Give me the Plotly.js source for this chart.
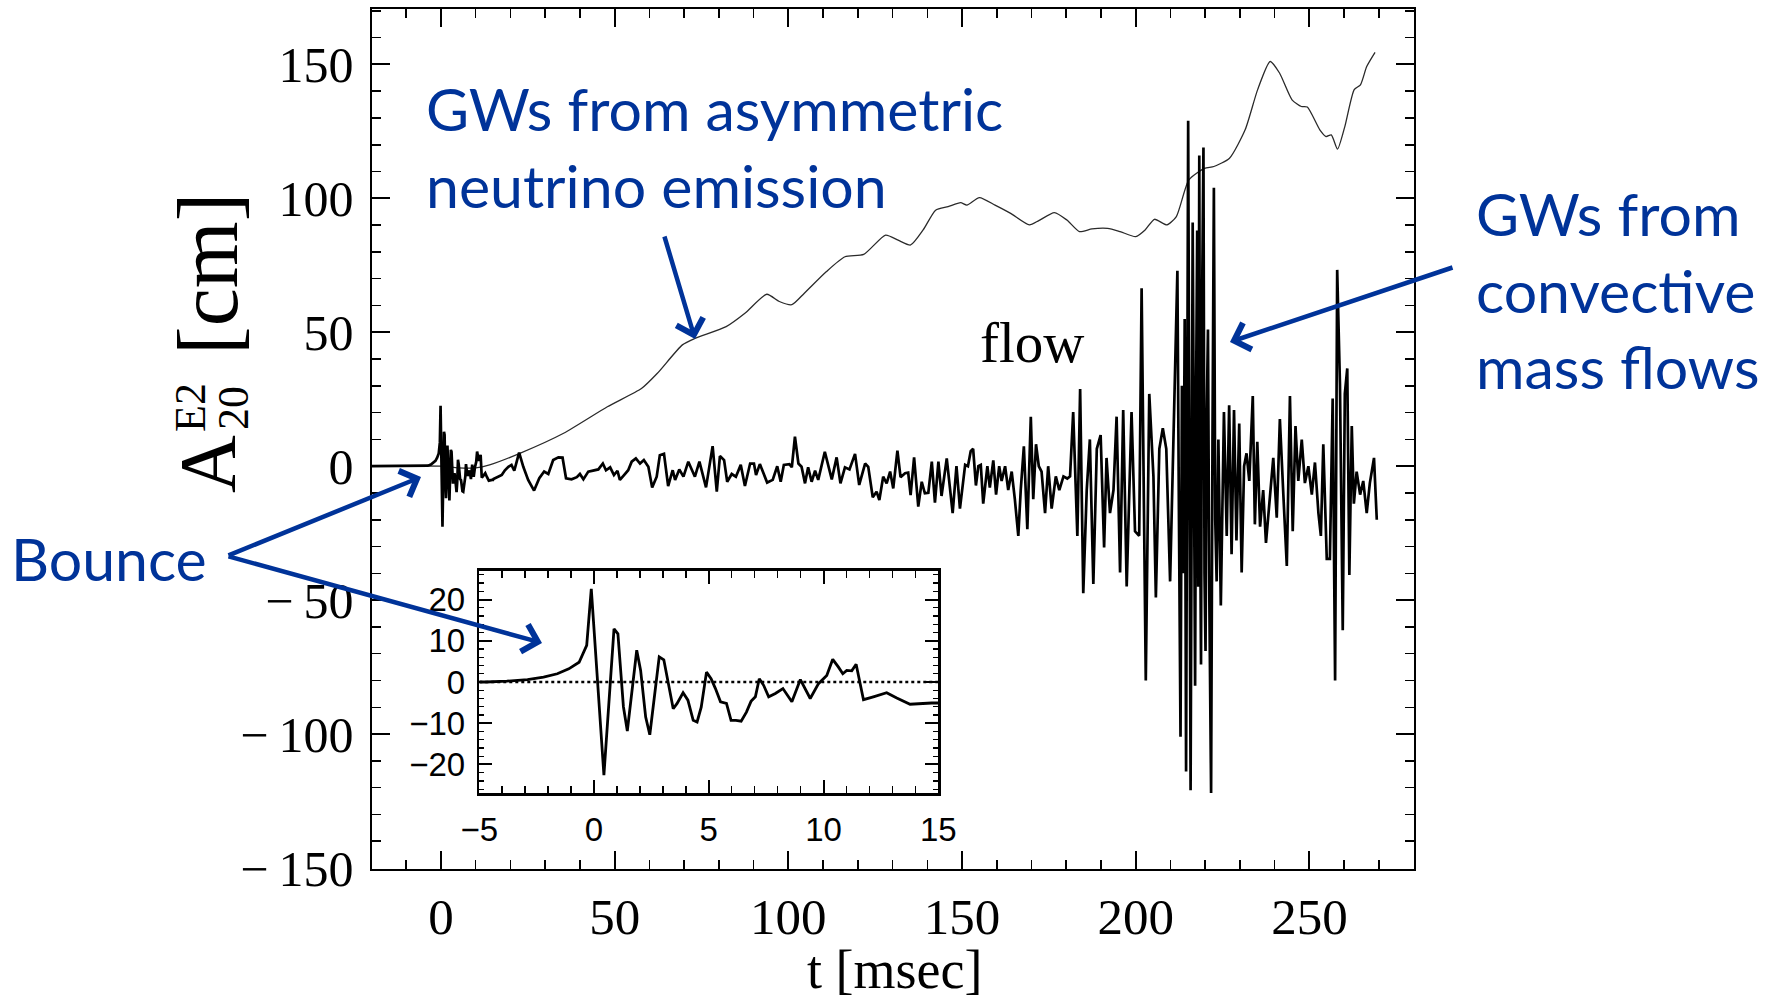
<!DOCTYPE html>
<html><head><meta charset="utf-8">
<script src="https://cdn.plot.ly/plotly-3.0.1.min.js"></script>
<style>html,body{margin:0;padding:0;background:#fff;}#chart{width:1776px;height:999px;}</style>
</head><body><div id="chart"></div>
<script>
// ---- Inset / bounce region (t in msec, A in cm) ----
const insetT = [-5, -4.7, -3.8, -2.9, -2.2, -1.6, -1.1, -0.65, -0.32, -0.12, 0.43, 0.87, 1.04, 1.28, 1.45, 1.86, 2.03, 2.25, 2.43, 2.84, 3.04, 3.26, 3.45, 3.62, 3.88, 4.09, 4.32, 4.49, 4.67, 4.9, 5.1, 5.29, 5.51, 5.77, 5.97, 6.18, 6.41, 6.64, 6.84, 7.03, 7.2, 7.39, 7.61, 7.9, 8.23, 8.62, 8.99, 9.42, 9.6, 9.78, 10.14, 10.4, 10.65, 10.84, 11.01, 11.23, 11.42, 11.74, 12.17, 12.75, 13.19, 13.77, 14.71, 15];
const insetV = [0, 0, 0.2, 0.6, 1.2, 2, 3.2, 4.8, 8.9, 22.6, -22.6, 12.9, 11.7, -6, -11.9, 7.7, 2.8, -8.5, -12.8, 6.1, 5.4, -1.2, -6.5, -5.2, -2.6, -4.4, -9.3, -9.7, -6.1, 2.4, 0.8, -1.6, -4.8, -5.2, -9.3, -9.3, -9.5, -7.3, -4.7, -3.6, 0.8, -0.8, -3.6, -2.8, -1.6, -4.8, 0.6, -4, -2, -0.4, 1.6, 5.5, 3.6, 2, 2.8, 2.7, 4.3, -4.3, -3.6, -2.6, -3.9, -5.4, -5.1, -5.1];

// ---- Main "flow" signal (thick line) ----
const preT = [-20];
const preV = [0];
const flowT1 = [15.1, 16.5, 17.5, 18.4, 19.4, 20.3, 21.1, 21.8, 22.5, 23.7, 25.1, 26.8, 28.3, 29.7, 30.9, 32.3, 33.8, 35, 36, 37.6, 39.1, 40, 41, 42.4, 43.9, 45.3, 46.6, 47.5, 48.7, 49.8, 50.8, 51.5, 52.7, 53.9, 54.9, 56.1, 57.3, 58.4, 59.7, 60.8, 62.1, 63, 64.2, 65.4, 66.7, 67.4, 68.6, 69.8, 71.2];
const flowV1 = [-4.8, -4, -3.3, -1.5, -0.2, 0.5, -1.7, 1.7, 5.1, -0.2, -5.1, -9.1, -4.5, -2, -2.9, 2.3, 3.3, 3.2, -4.5, -4.9, -4.1, -2.9, -4.9, -2, -1.7, -1.2, 1, -1.5, -0.4, -3.3, -1.7, -5.1, -3.3, -1.5, 1.7, 2.9, 1, 2.3, -0.2, -7.9, -3.9, 4.1, 4.6, -7.4, -1.5, -5.1, -1.2, -3.9, 1.7];
const flowT2 = [73.1, 74.4, 76.3, 78.2, 79.4, 80.3, 81.5, 82.4, 83.7, 84.9, 86.3, 87.5, 89, 90.1, 90.7, 91.8, 93.9, 95.5, 96.8, 97.8, 98.7, 100.3, 101, 101.9, 102.9, 103.8, 104.8, 105.7, 106.7, 107.7, 108.6, 110.5, 112.5, 113.9, 115, 116.3, 117.6, 119.2, 120.4, 122.1, 123, 124.3, 125.4, 126.2, 127.3, 128.3, 129.3, 130.2, 131.4, 132.3, 133.6, 134.5, 135.2, 136.2, 137.4, 138.4, 139.3, 140.3, 141.3, 142.2, 143.2, 144.1, 145.6];
const flowV2 = [-3.9, 1.7, -7.9, 7.5, -9.5, 3.8, 2.3, -5.8, -2.9, -3.9, 0.5, -7.4, 1, 1, -3.3, 0.8, -6.1, -5.1, 0, -5.8, 0.5, 0.8, -0.4, 11, 1, -0.2, -6.4, -0.4, -5.8, -1.7, -5.1, 5.4, -4.9, 3.3, -6.4, -0.4, -1.2, 4.6, -7, 1, -0.2, -11.6, -9.5, -12.6, -3.9, -6.4, -2, -8.3, 5.8, -4.1, -2.6, -2.4, -10.8, 3.3, -15.1, -5.8, -10.1, -9.9, 1.7, -13.6, 1.7, -11.1, 2.9];
const flowT3 = [147.3, 148.4, 149.4, 150.9, 151.7, 152.5, 153.2, 154, 154.7, 155.4, 156.1, 157.3, 158, 159, 159.8, 160.7, 161.4, 162.4, 163.3, 164.3, 165.2, 166.2, 166.9, 167.8, 168.8, 169.8, 170.5, 171.3, 172.1, 172.9, 173.9, 174.8, 175.8, 177, 178, 179.2, 180.3, 181.1, 182, 182.8, 183.2, 184, 184.9, 185.9, 186.8, 187.8, 188.8, 189.9, 190.9, 191.6, 192.6, 193.6, 194.5, 195.5, 196.4, 197.4, 198.8, 199.8, 201, 201.7, 202.9, 203.9];
const flowV3 = [-17.5, 0, -15.8, 0.5, 0, 5.6, 6.5, -7.2, 0, 0.5, -14, 0, -8, 2.2, -10.6, 0, -5.5, 0, -8.9, -2, -12.3, -26, -8.9, 7.4, -23.5, 18.5, -12.3, 8.2, 0, -2, -17.5, 0, -15.8, -3.8, -8.9, -3.8, -4.6, -3.8, 20.2, -8.9, -26, 28.8, -47.4, -8.9, 10, -44, 6.5, 11.6, -30.3, 3.1, -17.5, -8.9, 18.5, -39.7, 21, -44.9, 20.2, -24.3, -26, 66.4, -80, 27];
const flowT4 = [205.1, 205.8, 206.8, 207.8, 208.8, 209.9, 210.8, 212.0, 212.45, 212.9, 213.3, 213.7, 214.1, 214.5, 215.1, 215.45, 215.8, 216.4, 216.75, 217.1, 217.4, 217.7, 218.0, 218.3, 218.55, 218.8, 219.1, 219.5, 219.8, 220.1, 220.45, 220.8, 221.2, 221.7, 222.1, 222.5, 222.9, 223.3, 223.8, 224.5, 225.4, 226.2, 226.9, 227.6, 228.3, 229, 229.8, 230.5, 231.2, 231.9, 232.7, 233.7, 234.3, 235, 235.8, 236.7, 237.5, 238.7, 239.6, 240.6, 241.5, 242.5, 243.5, 244.4, 245.2, 246, 246.8, 247.8, 248.7, 249.7, 250.7, 251.6, 252.6, 253.3, 254, 255, 255.9, 256.7, 257.4, 258, 258.8, 259.6, 260.2, 260.9, 261.5, 262.2, 262.8, 263.6, 264.6, 265.5, 266.5, 267.4, 268.6, 269.4];
const flowV4 = [-3.8, -49, 6.5, 14.2, 6.5, -43, 3.1, 73, -20, -101, 30, -40, 55, -114, 129, -30, -121, 91, -30, -82, 30, 88, -45, 116, -20, -74, 60, 119, -40, -69, 20, 51, -50, -122, 10, 104, -20, -43, 10, -52, 20.2, -26, 22.8, -32.9, 21, -27.7, 15.9, -39.7, 0, 4.8, -5.5, 26.2, -21.7, 9.1, -22.6, -8.9, -28.6, -8.9, 3.1, -19.2, 17.6, -10.6, -37.2, 26.2, -24.3, 15, -5.5, 9.9, -6.3, 0, -10.6, 1.4, -17.5, -26, 8.2, -34.6, -34.6, 25.3, -80, 73.3, 30.5, -61.2, 27, 36.5, -40.6, 15, -14, -2, -10.6, -5.5, -17.5, -6.3, 3.1, -20];

// ---- Neutrino contribution (thin line) ----
const nuT = [-20, 0, 5, 10, 14, 22.7, 35.3, 47.9, 57.8, 62.3, 69.5, 73.1, 82.1, 87.5, 93.8, 97.4, 101, 104.6, 110.9, 116.3, 121.7, 128, 131.6, 135.2, 138.8, 142.4, 146, 149.6, 151.4, 155, 159.5, 164, 169.4, 172.1, 176.6, 180.2, 183.8, 187.4, 191.9, 195.5, 200, 202.7, 205.4, 209, 211.7, 215.3, 219.8, 222.5, 227, 231.5, 235.1, 238.7, 241.4, 245, 247.7, 249.4, 253, 254.8, 256.3, 258.1, 260.2, 262.9, 264.7, 266.5, 268.9];
const nuV = [0, 0, -0.6, -0.6, 0.5, 4.8, 12.3, 22.2, 29.1, 34.7, 45.3, 47.7, 52.1, 57.1, 64.2, 61.5, 60.3, 64.6, 72.6, 78.2, 79.1, 86.3, 84.4, 82.6, 88.2, 95.6, 96.9, 98.4, 97.5, 100.3, 97.5, 94.4, 90.1, 91.7, 94.7, 91.9, 87.6, 88.6, 88.8, 87.6, 85.7, 88.2, 92.2, 90.1, 93.2, 106.9, 111.2, 111.9, 115, 125.6, 140.6, 151.1, 146.8, 136.8, 134.3, 134.1, 125.6, 123.1, 123.7, 118.4, 126.8, 140.6, 142.4, 149.2, 154.5];

// ---- Ticks ----
const xTickVals = [0, 50, 100, 150, 200, 250];
const xTickText = ['0', '50', '100', '150', '200', '250'];
const yTickVals = [150, 100, 50, 0, -50, -100, -150];
const yTickText = ['150', '100', '50', '0', '\u2212\u200950', '\u2212\u2009100', '\u2212\u2009150'];

const flowT = preT.concat(insetT, flowT1, flowT2, flowT3, flowT4);
const flowV = preV.concat(insetV, flowV1, flowV2, flowV3, flowV4);

const W = 1776, H = 999;
const px = x => x / W;
const py = y => 1 - y / H;

const serif = 'Liberation Serif, Times New Roman, serif';
const blue = '#003399';
const blueFont = {family: 'Lato, Open Sans, sans-serif', size: 59, color: blue};
const insetFont = {family: 'Liberation Sans Narrow, Liberation Sans, Arial, sans-serif', size: 33, color: '#000'};

const traces = [
  {x: nuT, y: nuV, xaxis: 'x', yaxis: 'y', mode: 'lines', line: {color: '#2a2a2a', width: 1.3, shape: 'spline', smoothing: 0.6}, hoverinfo: 'skip'},
  {x: flowT, y: flowV, xaxis: 'x', yaxis: 'y', mode: 'lines', line: {color: '#000', width: 2.7}, hoverinfo: 'skip'},
  {x: insetT, y: insetV, xaxis: 'x2', yaxis: 'y2', mode: 'lines', line: {color: '#000', width: 2.8}, hoverinfo: 'skip'}
];

const axCommon = {showline: true, linecolor: '#000', mirror: 'ticks', ticks: 'inside', tickcolor: '#000', showgrid: false, zeroline: false, fixedrange: true, automargin: false};

const layout = {
  width: W, height: H,
  margin: {l: 0, r: 0, t: 0, b: 0},
  paper_bgcolor: '#fff', plot_bgcolor: 'rgba(0,0,0,0)',
  showlegend: false,
  xaxis: Object.assign({}, axCommon, {
    domain: [0.20918, 0.79595], range: [-20, 280], anchor: 'y', linewidth: 2,
    ticklen: 18, tickwidth: 2, tickmode: 'array', tickvals: xTickVals, ticktext: xTickText,
    tickfont: {family: serif, size: 51, color: '#000'}, ticklabelstandoff: 2,
    minor: {tickmode: 'linear', tick0: 0, dtick: 10, ticks: 'inside', ticklen: 9, tickwidth: 1.5, tickcolor: '#000', showgrid: false}
  }),
  yaxis: Object.assign({}, axCommon, {
    domain: [0.13033, 0.99099], range: [-150.3, 170.7], anchor: 'x', linewidth: 2,
    ticklen: 18, tickwidth: 2, tickmode: 'array', tickvals: yTickVals, ticktext: yTickText,
    tickfont: {family: serif, size: 50, color: '#000'}, ticklabelstandoff: 6,
    minor: {tickmode: 'linear', tick0: 0, dtick: 10, ticks: 'inside', ticklen: 9, tickwidth: 1.5, tickcolor: '#000', showgrid: false}
  }),
  xaxis2: Object.assign({}, axCommon, {
    domain: [0.26987, 0.52832], range: [-5, 15], anchor: 'y2', linewidth: 2.5,
    ticklen: 13, tickwidth: 2, tickmode: 'linear', tick0: 0, dtick: 5,
    tickfont: insetFont, ticklabelstandoff: 6,
    minor: {tickmode: 'linear', tick0: 0, dtick: 1, ticks: 'inside', ticklen: 7, tickwidth: 1.5, tickcolor: '#000', showgrid: false}
  }),
  yaxis2: Object.assign({}, axCommon, {
    domain: [0.20591, 0.42873], range: [-27, 27], anchor: 'x2', linewidth: 2.5,
    ticklen: 13, tickwidth: 2, tickmode: 'linear', tick0: 0, dtick: 10,
    tickfont: insetFont, ticklabelstandoff: 5,
    minor: {tickmode: 'linear', tick0: 0, dtick: 2, ticks: 'inside', ticklen: 5, tickwidth: 1.2, tickcolor: '#000', showgrid: false}
  }),
  shapes: [
    {type: 'line', xref: 'x2', yref: 'y2', x0: -5, x1: 15, y0: 0, y1: 0, line: {color: '#000', width: 2.5, dash: 'dot'}}
  ],
  annotations: [
    // axis titles
    {text: 't [msec]', xref: 'paper', yref: 'paper', x: px(894), y: py(970), xanchor: 'center', yanchor: 'middle', showarrow: false, font: {family: serif, size: 54, color: '#000'}},
    {text: '[cm]', xref: 'paper', yref: 'paper', x: px(208), y: py(274), xanchor: 'center', yanchor: 'middle', textangle: -90, showarrow: false, font: {family: serif, size: 86, color: '#000'}},
    {text: 'A', xref: 'paper', yref: 'paper', x: px(208), y: py(464), xanchor: 'center', yanchor: 'middle', textangle: -90, showarrow: false, font: {family: serif, size: 80, color: '#000'}},
    {text: '20', xref: 'paper', yref: 'paper', x: px(233), y: py(408), xanchor: 'center', yanchor: 'middle', textangle: -90, showarrow: false, font: {family: serif, size: 44, color: '#000'}},
    {text: 'E2', xref: 'paper', yref: 'paper', x: px(190), y: py(408), xanchor: 'center', yanchor: 'middle', textangle: -90, showarrow: false, font: {family: serif, size: 44, color: '#000'}},
    // in-plot label
    {text: 'flow', xref: 'paper', yref: 'paper', x: px(978), y: py(342), xanchor: 'left', yanchor: 'middle', showarrow: false, font: {family: serif, size: 57, color: '#000'}},
    // blue callouts
    {text: 'GWs from asymmetric<br>neutrino emission', xref: 'paper', yref: 'paper', x: px(424), y: py(147), xanchor: 'left', yanchor: 'middle', align: 'left', showarrow: false, font: blueFont},
    {text: 'GWs from<br>convective<br>mass flows', xref: 'paper', yref: 'paper', x: px(1474), y: py(290), xanchor: 'left', yanchor: 'middle', align: 'left', showarrow: false, font: blueFont},
    {text: 'Bounce', xref: 'paper', yref: 'paper', x: px(9), y: py(558), xanchor: 'left', yanchor: 'middle', align: 'left', showarrow: false, font: blueFont},
    // arrows
    {text: '', xref: 'paper', yref: 'paper', x: px(695), y: py(339), ax: -31, ay: -104, showarrow: true, arrowhead: 4, arrowsize: 1.2, arrowwidth: 4.5, arrowcolor: blue, standoff: 0},
    {text: '', xref: 'paper', yref: 'paper', x: px(1230), y: py(342), ax: 224, ay: -75, showarrow: true, arrowhead: 4, arrowsize: 1.2, arrowwidth: 4.5, arrowcolor: blue, standoff: 0},
    {text: '', xref: 'paper', yref: 'paper', x: px(421), y: py(477), ax: -194, ay: 79, showarrow: true, arrowhead: 4, arrowsize: 1.2, arrowwidth: 4.5, arrowcolor: blue, standoff: 0},
    {text: '', xref: 'paper', yref: 'paper', x: px(542), y: py(643), ax: -315, ay: -87, showarrow: true, arrowhead: 4, arrowsize: 1.2, arrowwidth: 4.5, arrowcolor: blue, standoff: 0}
  ]
};

Plotly.newPlot('chart', traces, layout, {staticPlot: true, displayModeBar: false});
</script></body></html>
